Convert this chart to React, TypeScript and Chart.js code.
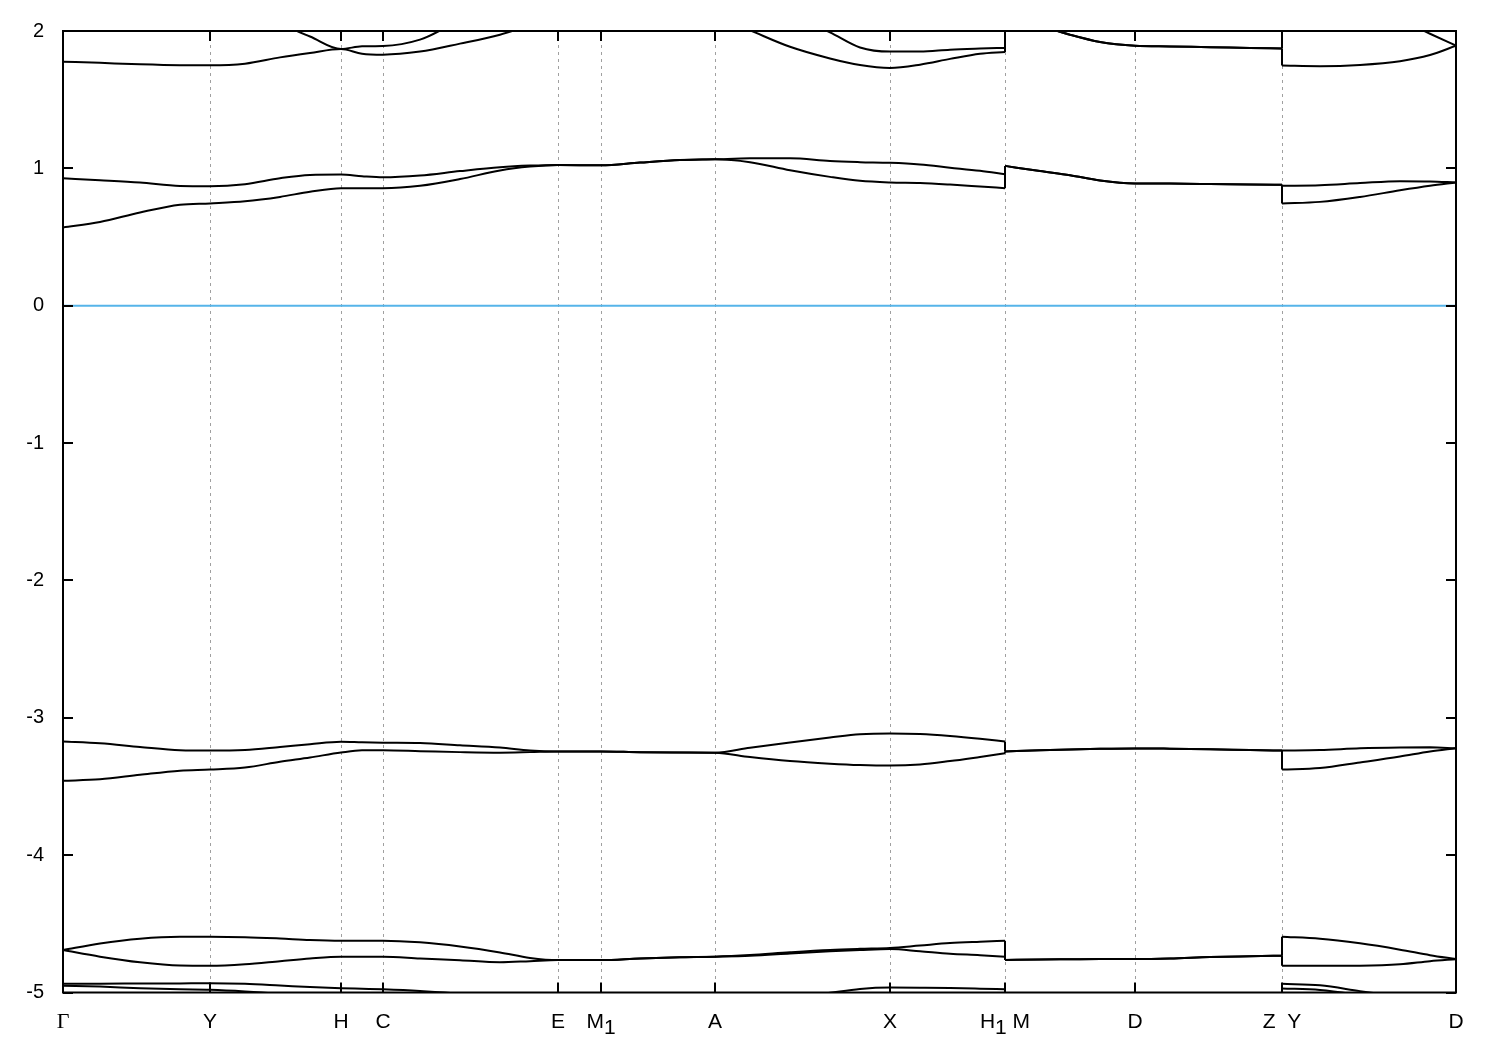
import React, { useEffect, useRef } from 'react';
import { Chart, registerables } from 'chart.js';

Chart.register(...registerables);

// k-path coordinate of every sample (duplicates mark the path breaks H1|M and Z|Y)
const kPath = [0, 37, 77, 117, 147, 182, 217, 247, 278, 299, 320, 357, 397, 437, 467, 495, 538, 577, 617, 652, 687, 727, 767, 797, 827, 857, 887, 917, 942, 942, 977, 1007, 1037, 1072, 1107, 1147, 1187, 1219, 1219, 1257, 1297, 1337, 1367, 1393];

// high-symmetry points
const kTicks = [0, 147, 278, 320, 495, 538, 652, 827, 942, 1072, 1219, 1393];
const kLabels = ['Γ', 'Y', 'H', 'C', 'E', 'M_1', 'A', 'X', 'H_1 M', 'D', 'Z  Y', 'D'];

// energy axis
const energyTicks = [-5, -4, -3, -2, -1, 0, 1, 2];
const energyMin = -5;
const energyMax = 2;
const fermiLevel = 0;

// bands (eV), one value per kPath entry
const bandB2 = [-4.950, -4.957, -4.969, -4.977, -4.980, -4.992, -5.01, -5.03, -5.05, -5.06, -5.07, -5.09, -5.11, -5.13, -5.14, -5.15, -5.16, -5.17, -5.17, -5.16, -5.14, -5.12, -5.10, -5.09, -5.08, -5.08, -5.08, -5.09, -5.09, -5.12, -5.12, -5.12, -5.12, -5.12, -5.11, -5.11, -5.10, -5.10, -4.970, -4.982, -5.02, -5.07, -5.10, -5.12];
const bandB1 = [-4.937, -4.936, -4.935, -4.934, -4.933, -4.937, -4.949, -4.960, -4.969, -4.973, -4.977, -4.989, -5.01, -5.05, -5.07, -5.09, -5.11, -5.12, -5.12, -5.11, -5.08, -5.04, -5.002, -4.974, -4.964, -4.965, -4.967, -4.972, -4.977, -5.06, -5.07, -5.08, -5.08, -5.08, -5.08, -5.07, -5.07, -5.06, -4.937, -4.948, -4.990, -5.03, -5.06, -5.08];
const bandQ1 = [-4.691, -4.739, -4.780, -4.804, -4.806, -4.795, -4.772, -4.752, -4.739, -4.739, -4.739, -4.752, -4.765, -4.780, -4.772, -4.764, -4.764, -4.752, -4.744, -4.739, -4.732, -4.716, -4.700, -4.691, -4.684, -4.700, -4.718, -4.728, -4.739, -4.764, -4.759, -4.758, -4.757, -4.757, -4.753, -4.742, -4.736, -4.732, -4.806, -4.806, -4.805, -4.795, -4.772, -4.757];
const bandP1 = [-4.691, -4.643, -4.608, -4.594, -4.594, -4.597, -4.607, -4.618, -4.623, -4.623, -4.623, -4.635, -4.665, -4.708, -4.748, -4.764, -4.764, -4.752, -4.744, -4.739, -4.727, -4.707, -4.690, -4.682, -4.676, -4.658, -4.640, -4.630, -4.623, -4.764, -4.759, -4.758, -4.757, -4.757, -4.753, -4.742, -4.736, -4.732, -4.594, -4.608, -4.642, -4.688, -4.728, -4.757];
const bandW1 = [-3.459, -3.448, -3.415, -3.385, -3.377, -3.362, -3.320, -3.289, -3.253, -3.237, -3.237, -3.243, -3.250, -3.254, -3.250, -3.245, -3.245, -3.251, -3.253, -3.254, -3.286, -3.315, -3.334, -3.344, -3.348, -3.340, -3.315, -3.285, -3.259, -3.245, -3.236, -3.231, -3.226, -3.223, -3.225, -3.229, -3.235, -3.239, -3.377, -3.366, -3.325, -3.282, -3.245, -3.222];
const bandV1 = [-3.172, -3.185, -3.212, -3.236, -3.239, -3.234, -3.212, -3.192, -3.174, -3.178, -3.181, -3.184, -3.200, -3.216, -3.238, -3.245, -3.245, -3.251, -3.253, -3.254, -3.218, -3.180, -3.144, -3.120, -3.114, -3.118, -3.132, -3.152, -3.172, -3.245, -3.236, -3.231, -3.226, -3.223, -3.225, -3.229, -3.235, -3.239, -3.239, -3.235, -3.222, -3.216, -3.215, -3.222];
const bandL1 = [0.570, 0.610, 0.679, 0.735, 0.745, 0.760, 0.792, 0.830, 0.856, 0.856, 0.856, 0.873, 0.922, 0.985, 1.013, 1.025, 1.022, 1.042, 1.060, 1.066, 1.045, 0.986, 0.938, 0.909, 0.897, 0.893, 0.882, 0.868, 0.856, 1.018, 0.980, 0.950, 0.912, 0.890, 0.889, 0.886, 0.882, 0.880, 0.745, 0.756, 0.792, 0.840, 0.873, 0.897];
const bandU1 = [0.928, 0.914, 0.897, 0.872, 0.870, 0.885, 0.928, 0.952, 0.955, 0.943, 0.935, 0.948, 0.980, 1.008, 1.020, 1.025, 1.022, 1.042, 1.060, 1.066, 1.073, 1.073, 1.053, 1.045, 1.040, 1.028, 1.005, 0.982, 0.957, 1.018, 0.980, 0.950, 0.912, 0.890, 0.889, 0.886, 0.882, 0.880, 0.873, 0.877, 0.893, 0.907, 0.905, 0.897];
const bandT1 = [1.777, 1.768, 1.758, 1.751, 1.750, 1.762, 1.808, 1.840, 1.869, 1.835, 1.828, 1.850, 1.908, 1.973, 2.040, 2.090, 2.140, 2.150, 2.140, 2.110, 2.005, 1.885, 1.800, 1.752, 1.731, 1.755, 1.797, 1.835, 1.848, 2.100, 2.040, 1.973, 1.920, 1.893, 1.888, 1.882, 1.877, 1.872, 1.748, 1.744, 1.753, 1.780, 1.825, 1.893];
const bandT2 = [2.300, 2.280, 2.250, 2.220, 2.200, 2.140, 2.050, 1.960, 1.869, 1.889, 1.891, 1.937, 2.070, 2.120, 2.160, 2.200, 2.250, 2.270, 2.270, 2.260, 2.180, 2.120, 1.990, 1.880, 1.850, 1.850, 1.864, 1.872, 1.877, 2.100, 2.040, 1.973, 1.920, 1.893, 1.888, 1.882, 1.877, 1.872, 2.200, 2.190, 2.150, 2.080, 1.980, 1.893];

const bands = [bandB2, bandB1, bandQ1, bandP1, bandW1, bandV1, bandL1, bandU1, bandT1, bandT2];

const bandColor = '#000000';
const fermiColor = '#56b4e9';
const gridColor = '#a0a0a0';

function buildDatasets() {
  const breaks: number[] = [];
  for (let i = 1; i < kPath.length; i++) if (kPath[i] === kPath[i - 1]) breaks.push(i);
  const ranges: [number, number][] = [];
  let s = 0;
  for (const b of breaks) {
    ranges.push([s, b - 1]);
    s = b;
  }
  ranges.push([s, kPath.length - 1]);

  const ds: any[] = [];
  ds.push({
    data: [
      { x: kPath[0], y: fermiLevel },
      { x: kPath[kPath.length - 1], y: fermiLevel },
    ],
    borderColor: fermiColor,
    borderWidth: 2,
    pointRadius: 0,
    tension: 0,
  });
  for (const band of bands) {
    for (const [a, b] of ranges) {
      ds.push({
        data: kPath.slice(a, b + 1).map((k, j) => ({ x: k, y: band[a + j] })),
        borderColor: bandColor,
        borderWidth: 2,
        pointRadius: 0,
        cubicInterpolationMode: 'monotone',
      });
    }
    for (const b of breaks) {
      ds.push({
        data: [
          { x: kPath[b - 1], y: band[b - 1] },
          { x: kPath[b], y: band[b] },
        ],
        borderColor: bandColor,
        borderWidth: 2,
        pointRadius: 0,
        tension: 0,
      });
    }
  }
  return ds;
}

const SANS = "'Liberation Sans', Arial, sans-serif";
const SERIF = "'Liberation Serif', 'Times New Roman', serif";

function drawTickLabel(ctx: CanvasRenderingContext2D, label: string, cx: number, baseY: number) {
  const size = 21;
  const parts: { t: string; sub: boolean }[] = [];
  for (let i = 0; i < label.length; i++) {
    if (label[i] === '_' && i + 1 < label.length) {
      parts.push({ t: label[i + 1], sub: true });
      i++;
    } else {
      parts.push({ t: label[i], sub: false });
    }
  }
  const fontFor = (t: string) => (t === 'Γ' ? `${size + 1}px ${SERIF}` : `${size}px ${SANS}`);
  let total = 0;
  const widths = parts.map((p) => {
    ctx.font = fontFor(p.t);
    const w = ctx.measureText(p.t).width;
    total += w;
    return w;
  });
  let x = cx - total / 2;
  ctx.textAlign = 'left';
  ctx.textBaseline = 'alphabetic';
  ctx.fillStyle = '#000';
  parts.forEach((p, i) => {
    ctx.font = fontFor(p.t);
    ctx.fillText(p.t, x, baseY + (p.sub ? 6 : 0));
    x += widths[i];
  });
}

const framePlugin = {
  id: 'bandFrame',
  beforeDatasetsDraw(chart: any) {
    const { ctx, chartArea, scales } = chart;
    const { top, bottom } = chartArea;
    ctx.save();
    ctx.strokeStyle = gridColor;
    ctx.lineWidth = 1;
    ctx.setLineDash([3, 4]);
    for (const k of kTicks.slice(1, -1)) {
      const px = Math.round(scales.x.getPixelForValue(k)) + 0.5;
      ctx.beginPath();
      ctx.moveTo(px, top);
      ctx.lineTo(px, bottom);
      ctx.stroke();
    }
    ctx.restore();
  },
  afterDraw(chart: any) {
    const { ctx, chartArea, scales } = chart;
    const { left, right, top, bottom } = chartArea;
    ctx.save();
    ctx.strokeStyle = '#000';
    ctx.lineWidth = 2;
    ctx.setLineDash([]);
    ctx.strokeRect(left, top, right - left, bottom - top);
    const tl = 10;
    ctx.beginPath();
    for (const k of kTicks.slice(1, -1)) {
      const px = Math.round(scales.x.getPixelForValue(k));
      ctx.moveTo(px, top);
      ctx.lineTo(px, top + tl);
      ctx.moveTo(px, bottom);
      ctx.lineTo(px, bottom - tl);
    }
    for (const e of energyTicks) {
      const py = Math.round(scales.y.getPixelForValue(e));
      ctx.moveTo(left, py);
      ctx.lineTo(left + tl, py);
      ctx.moveTo(right, py);
      ctx.lineTo(right - tl, py);
    }
    ctx.stroke();
    kTicks.forEach((k, i) => {
      drawTickLabel(ctx, kLabels[i], scales.x.getPixelForValue(k), bottom + 35.5);
    });
    ctx.restore();
  },
};

export default function App() {
  const canvasRef = useRef<HTMLCanvasElement | null>(null);

  useEffect(() => {
    const canvas = canvasRef.current;
    if (!canvas) return;
    Chart.defaults.font.family = SANS;
    const chart = new Chart(canvas, {
      type: 'line',
      data: { datasets: buildDatasets() },
      options: {
        animation: false,
        responsive: false,
        devicePixelRatio: 1,
        events: [],
        layout: { padding: { top: 28, right: 44, left: 0, bottom: 0 } },
        plugins: {
          legend: { display: false },
          tooltip: { enabled: false },
          title: { display: false },
        },
        scales: {
          x: {
            type: 'linear',
            min: kPath[0],
            max: kPath[kPath.length - 1],
            grid: { display: false, drawTicks: false },
            border: { display: false },
            ticks: { display: false },
            afterFit: (scale: any) => {
              scale.height = 57.5;
            },
          },
          y: {
            type: 'linear',
            min: energyMin,
            max: energyMax,
            grid: { display: false, drawTicks: false },
            border: { display: false },
            afterBuildTicks: (scale: any) => {
              scale.ticks = energyTicks.map((v) => ({ value: v }));
            },
            ticks: {
              color: '#000',
              padding: 19,
              font: { size: 20, family: SANS },
              callback: (v: any) => String(v),
            },
            afterFit: (scale: any) => {
              scale.width = 63;
            },
          },
        },
      } as any,
      plugins: [framePlugin],
    });
    return () => chart.destroy();
  }, []);

  return (
    <div style={{ position: 'absolute', left: 0, top: 0, width: 1500, height: 1050, background: '#fff' }}>
      <canvas ref={canvasRef} width={1500} height={1050} style={{ display: 'block' }} />
    </div>
  );
}
